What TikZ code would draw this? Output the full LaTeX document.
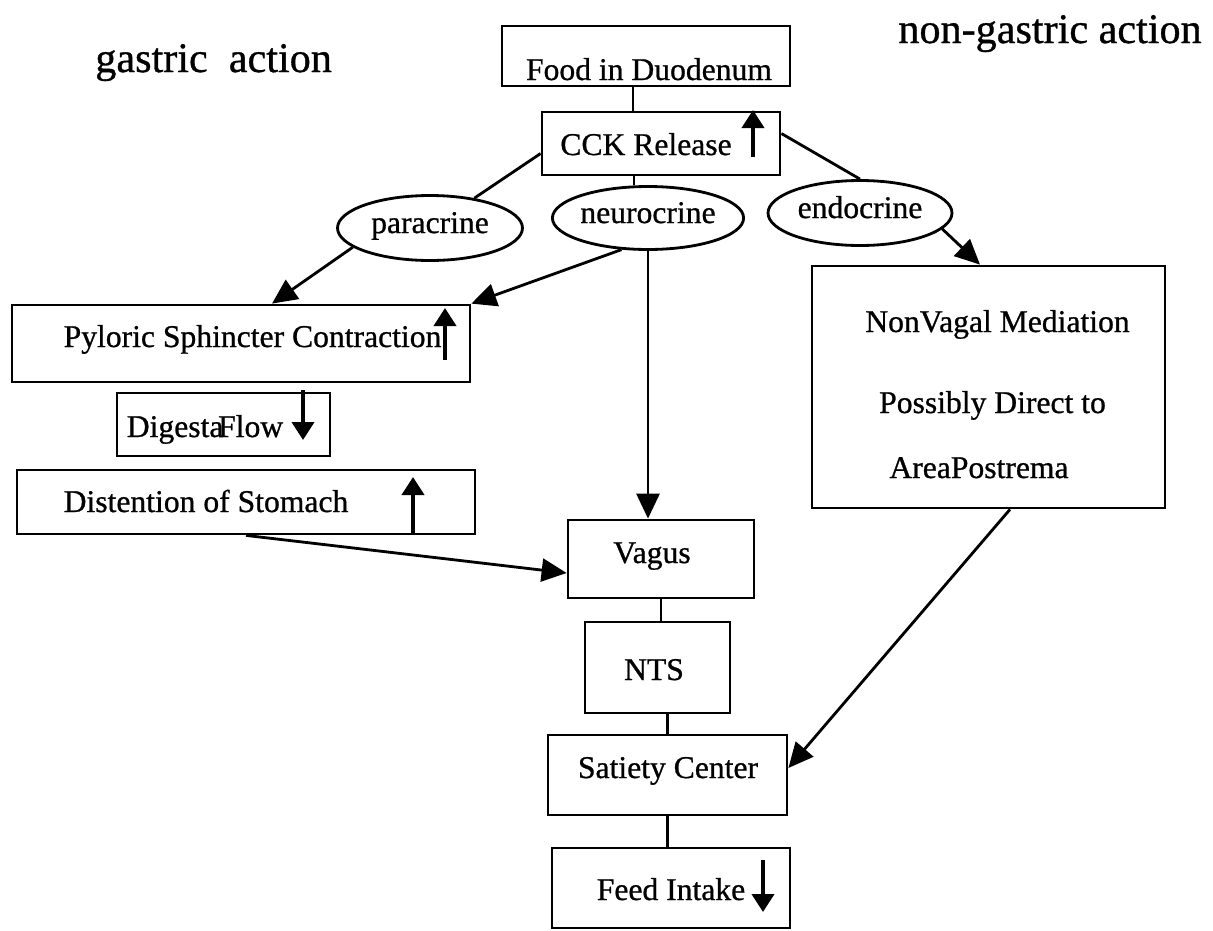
\documentclass[tikz,border=0pt]{standalone}
\usepackage{fontspec}
\setmainfont{Liberation Serif}[FakeBold=0.8]
\usetikzlibrary{arrows.meta, shapes.geometric, calc}

\tikzset{
  box/.style={draw, line width=1.6pt, inner sep=0pt},
  oval/.style={draw, ellipse, line width=1.6pt, inner sep=0pt, text height=1.5ex, text depth=.25ex},
  txt/.style={anchor=base, inner sep=0pt},
  head/.style={anchor=base west, inner sep=0pt, font=\fontsize{24}{28}\selectfont},
  link/.style={line width=1.6pt},
  flow/.style={line width=1.6pt, -{Triangle[length=5mm, width=4.6mm]}},
  updown/.style={line width=2.2pt, -{Triangle[length=3.6mm, width=4.4mm]}}
}

\begin{document}
\begin{tikzpicture}[x=0.02cm, y=-0.02cm, every node/.style={font=\fontsize{18}{21}\selectfont}]
    \useasboundingbox (0,0) rectangle (1213,930);

    % headings
    \node[head] (gastric) at (95,72) {gastric\ \ action};
    \node[head, anchor=base east] (nongastric) at (1202,43) {non-gastric action};

    % top of the chain
    \node[box, minimum width=5.76cm, minimum height=1.2cm] (food) at (646,56) {};
    \node[txt] (foodtxt) at (649,80) {Food in Duodenum};
    \node[box, minimum width=4.76cm, minimum height=1.26cm] (cck) at (661,143.5) {};
    \node[txt] (ccktxt) at (646,155) {CCK Release};
    \draw[updown] (753,157) -- (753,110);

    % the three routes
    \node[oval, minimum width=3.7cm, minimum height=1.3cm] (paracrine) at (430,228) {paracrine};
    \node[oval, minimum width=3.6cm, minimum height=1.26cm] (neurocrine) at (648,218) {neurocrine};
    \node[oval, minimum width=3.68cm, minimum height=1.3cm] (endocrine) at (860,213) {endocrine};

    % gastric side
    \node[box, minimum width=9.16cm, minimum height=1.54cm] (pyloric) at (241,343.5) {};
    \node[txt] (pylorictxt) at (252.5,347) {Pyloric Sphincter Contraction};
    \draw[updown] (445,360) -- (445,308);
    \node[box, minimum width=4.26cm, minimum height=1.26cm] (digesta) at (223.5,424.5) {};
    \node[txt] (digestatxt) at (205,437) {Digesta\kern-3pt Flow};
    \draw[updown] (303,390) -- (303,440);
    \node[box, minimum width=9.16cm, minimum height=1.28cm] (distention) at (246,502) {};
    \node[txt] (distentiontxt) at (206,512) {Distention of Stomach};
    \draw[updown] (413,534) -- (413,477);

    % vagal chain
    \node[box, minimum width=3.72cm, minimum height=1.56cm] (vagus) at (661,559) {};
    \node[txt] (vagustxt) at (652,563) {Vagus};
    \node[box, minimum width=2.9cm, minimum height=1.82cm] (nts) at (657.5,667.5) {};
    \node[txt] (ntstxt) at (654,680) {NTS};
    \node[box, minimum width=4.78cm, minimum height=1.6cm] (satiety) at (667.5,775) {};
    \node[txt] (satietytxt) at (668,778) {Satiety Center};
    \node[box, minimum width=4.76cm, minimum height=1.6cm] (feed) at (671,888) {};
    \node[txt] (feedtxt) at (671,900) {Feed Intake};
    \draw[updown] (763,860) -- (763,912);

    % non-gastric side
    \node[box, minimum width=7.06cm, minimum height=4.84cm] (nonvagal) at (988.5,387) {};
    \node[txt] (nonvagaltxt) at (997.5,332) {NonVagal Mediation};
    \node[txt] (directtxt) at (992.5,413) {Possibly Direct to};
    \node[txt] (areatxt) at (979,478) {AreaPostrema};

    % connectors
    \draw[link] ([xshift=-0.26cm]food.south) -- ([xshift=-0.26cm]food.south |- cck.north);
    \draw[link] ([xshift=-0.54cm]cck.south) -- ([xshift=-0.54cm]cck.south |- neurocrine.north);
    \draw[link] ([yshift=-0.2cm]cck.west) -- (paracrine);
    \draw[link] ([yshift=0.2cm]cck.east) -- (endocrine.north);
    \draw[flow] (paracrine.194) -- ([xshift=0.62cm]pyloric.north);
    \draw[flow] (neurocrine.230) -- (pyloric.north east);
    \draw[flow] (neurocrine.south) -- (neurocrine.south |- vagus.north);
    \draw[flow] (endocrine.349) -- ([xshift=-0.17cm]nonvagal.north);
    \draw[flow] (distention.south) -- ([yshift=-0.28cm]vagus.west);
    \draw[link] (vagus.south) -- (vagus.south |- nts.north);
    \draw[link] (satiety.north |- nts.south) -- (satiety.north);
    \draw[link] (satiety.south) -- (satiety.south |- feed.north);
    \draw[flow] ([xshift=0.43cm]nonvagal.south) -- ([yshift=0.14cm]satiety.east);
\end{tikzpicture}
\end{document}
